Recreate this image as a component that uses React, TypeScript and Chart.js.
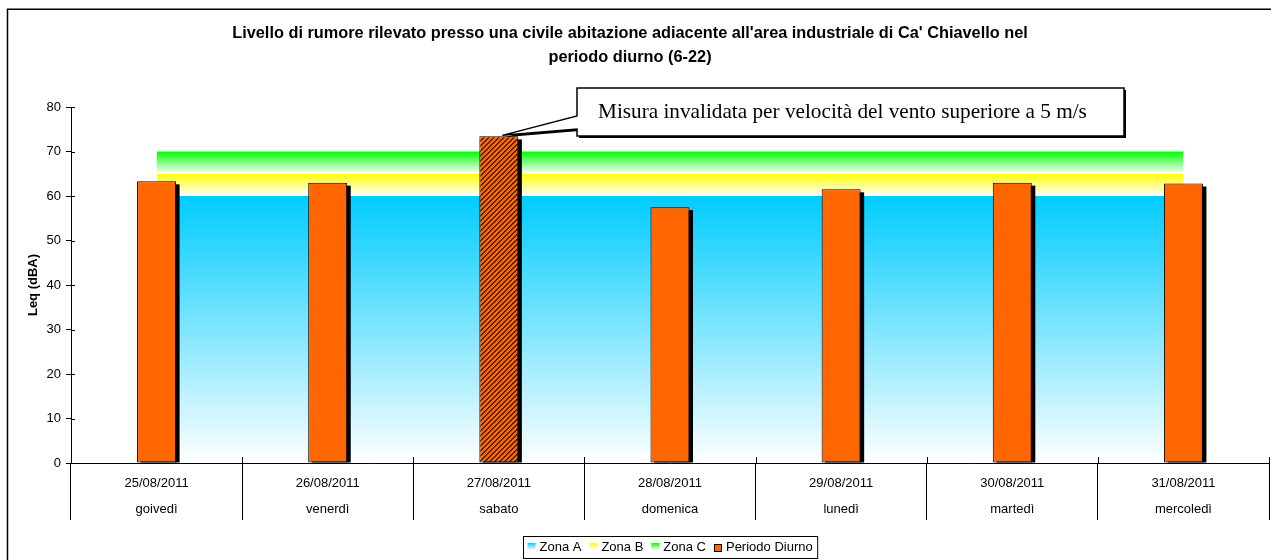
import React, { useEffect, useRef } from 'react';
import { Chart, registerables } from 'chart.js';

Chart.register(...registerables);

// ---------- data ----------
const dates = ['25/08/2011', '26/08/2011', '27/08/2011', '28/08/2011', '29/08/2011', '30/08/2011', '31/08/2011'];
const weekdays = ['goivedì', 'venerdì', 'sabato', 'domenica', 'lunedì', 'martedì', 'mercoledì'];
const periodoDiurno = [63.3, 63.0, 73.4, 57.5, 61.5, 63.0, 62.8];
const zonaA = [60, 60, 60, 60, 60, 60, 60];
const zonaB = [65, 65, 65, 65, 65, 65, 65];
const zonaC = [70, 70, 70, 70, 70, 70, 70];
const invalidIndex = 2;
const yMin = 0;
const yMax = 80;
const yStep = 10;
const titleLines = [
  "Livello di rumore rilevato presso una civile abitazione adiacente all'area industriale di Ca' Chiavello nel",
  'periodo diurno (6-22)',
];
const yTitle = 'Leq (dBA)';
const calloutText = 'Misura invalidata per velocità del vento superiore a 5 m/s';
const legendLabels = ['Zona A', 'Zona B', 'Zona C', 'Periodo Diurno'];

const SANS = '"Liberation Sans", Arial, sans-serif';
const SERIF = '"Liberation Serif", "Times New Roman", serif';
const ORANGE = '#FF6600';

function makeHatch(): CanvasPattern | string {
  const c = document.createElement('canvas');
  const n = 5;
  c.width = n;
  c.height = n;
  const g = c.getContext('2d');
  if (!g) return ORANGE;
  const img = g.createImageData(n, n);
  for (let j = 0; j < n; j++) {
    for (let i = 0; i < n; i++) {
      const k = (i + j) % n;
      let col = [255, 102, 0];
      if (k === 0) col = [45, 18, 0];
      else if (k === 1) col = [120, 48, 0];
      const p = (j * n + i) * 4;
      img.data[p] = col[0];
      img.data[p + 1] = col[1];
      img.data[p + 2] = col[2];
      img.data[p + 3] = 255;
    }
  }
  g.putImageData(img, 0, 0);
  return g.createPattern(c, 'repeat') || ORANGE;
}

function bandGradient(top: number, bottom: number, color: string) {
  return (ctx: any) => {
    const chart = ctx.chart;
    const ys = chart.scales && chart.scales.y;
    if (!chart.chartArea || !ys) return color;
    const g = chart.ctx.createLinearGradient(0, ys.getPixelForValue(top), 0, ys.getPixelForValue(bottom));
    g.addColorStop(0, color);
    g.addColorStop(1, '#FFFFFF');
    return g;
  };
}

const decorPlugin = {
  id: 'decor',
  beforeDatasetDraw(chart: any, args: any) {
    const ds = chart.data.datasets[args.index];
    if (ds.type !== 'bar') return;
    const ctx = chart.ctx;
    ctx.save();
    ctx.fillStyle = '#000';
    args.meta.data.forEach((el: any) => {
      const w = el.width;
      ctx.fillRect(el.x - w / 2 + 3.5, el.y + 3, w, el.base - el.y - 3);
    });
    ctx.restore();
  },
  afterDraw(chart: any) {
    const ctx = chart.ctx;
    const area = chart.chartArea;
    const xs = chart.scales.x;
    const ys = chart.scales.y;
    ctx.save();

    // outer border
    ctx.strokeStyle = '#000';
    ctx.lineWidth = 1.5;
    ctx.strokeRect(7.5, 9.25, 3000, 3000);

    // title
    ctx.fillStyle = '#000';
    ctx.textAlign = 'center';
    ctx.textBaseline = 'middle';
    let tf = 13;
    ctx.font = `bold ${tf}px ${SANS}`;
    const tw = ctx.measureText(titleLines[0]).width;
    tf = (tf * 796) / tw;
    ctx.font = `bold ${tf.toFixed(2)}px ${SANS}`;
    ctx.fillText(titleLines[0], 630, 33);
    ctx.fillText(titleLines[1], 630, 57);

    // x labels
    ctx.font = `13px ${SANS}`;
    ctx.textBaseline = 'alphabetic';
    for (let i = 0; i < dates.length; i++) {
      const x = xs.getPixelForValue(i);
      ctx.fillText(dates[i], x, 487);
      ctx.fillText(weekdays[i], x, 513);
    }

    // crossing tick marks
    ctx.strokeStyle = '#000';
    ctx.lineWidth = 1;
    ctx.beginPath();
    for (let v = yMin; v <= yMax; v += yStep) {
      const y = Math.round(ys.getPixelForValue(v)) + 0.5;
      ctx.moveTo(area.left, y);
      ctx.lineTo(area.left + 4, y);
    }
    for (let i = 1; i <= dates.length; i++) {
      const x = Math.round(area.left + (i * (area.right - area.left)) / dates.length) + 0.5;
      ctx.moveTo(x, area.bottom - 6);
      ctx.lineTo(x, area.bottom);
    }
    ctx.stroke();

    // callout
    const bar = chart.getDatasetMeta(3).data[invalidIndex];
    const tipX = bar.x + 3.5;
    const tipY = bar.y - 1;
    const bx0 = 577, by0 = 88, bx1 = 1124, by1 = 136;
    const pts: [number, number][] = [
      [bx0, by0], [bx1, by0], [bx1, by1], [bx0, by1], [bx0, 129], [tipX, tipY], [bx0, 116],
    ];
    const path = (dx: number, dy: number) => {
      ctx.beginPath();
      pts.forEach((p, k) => (k === 0 ? ctx.moveTo(p[0] + dx, p[1] + dy) : ctx.lineTo(p[0] + dx, p[1] + dy)));
      ctx.closePath();
    };
    ctx.fillStyle = '#000';
    path(2, 2);
    ctx.fill();
    ctx.fillStyle = '#FFF';
    path(0, 0);
    ctx.fill();
    ctx.strokeStyle = '#000';
    ctx.lineWidth = 1.5;
    path(0, 0);
    ctx.stroke();
    let cf = 20;
    ctx.font = `${cf}px ${SERIF}`;
    const cw = ctx.measureText(calloutText).width;
    cf = (cf * 489) / cw;
    ctx.font = `${cf.toFixed(2)}px ${SERIF}`;
    ctx.fillStyle = '#000';
    ctx.textAlign = 'left';
    ctx.textBaseline = 'middle';
    ctx.fillText(calloutText, 598, 112);

    // legend
    ctx.font = `13px ${SANS}`;
    const widths = legendLabels.map((l) => ctx.measureText(l).width);
    const content = widths.reduce((a, w) => a + 12 + w, 0) + 8 * (legendLabels.length - 1);
    const boxW = content + 9;
    const cx = (area.left + area.right) / 2;
    const boxL = Math.round(cx - boxW / 2) + 0.5;
    ctx.fillStyle = '#FFF';
    ctx.fillRect(boxL, 536.5, boxW, 22);
    ctx.strokeStyle = '#000';
    ctx.lineWidth = 1;
    ctx.strokeRect(boxL, 536.5, boxW, 22);
    const swatchCols = ['#00CCFF', '#FFFF00', '#00FF00'];
    let x = boxL + 4;
    legendLabels.forEach((l, k) => {
      if (k < 3) {
        const g = ctx.createLinearGradient(0, 543, 0, 550);
        g.addColorStop(0, swatchCols[k]);
        g.addColorStop(1, '#FFFFFF');
        ctx.fillStyle = g;
        ctx.fillRect(x, 543, 8, 7);
      } else {
        ctx.fillStyle = ORANGE;
        ctx.fillRect(x, 544, 8, 8);
        ctx.strokeStyle = '#000';
        ctx.strokeRect(x + 0.5, 544.5, 7, 7);
      }
      ctx.fillStyle = '#000';
      ctx.textAlign = 'left';
      ctx.textBaseline = 'middle';
      ctx.fillText(l, x + 12, 547.5);
      x += 12 + widths[k] + 8;
    });

    ctx.restore();
  },
};

export default function App() {
  const ref = useRef<HTMLCanvasElement>(null);
  useEffect(() => {
    if (!ref.current) return;
    const hatch = makeHatch();
    const chart = new Chart(ref.current, {
      type: 'bar',
      data: {
        labels: dates,
        datasets: [
          {
            type: 'line',
            label: legendLabels[0],
            data: zonaA,
            fill: 'origin',
            backgroundColor: bandGradient(60, 0, '#00CCFF'),
            borderColor: 'transparent',
            borderWidth: 0,
            pointRadius: 0,
            order: 3,
          } as any,
          {
            type: 'line',
            label: legendLabels[1],
            data: zonaB,
            fill: '-1',
            backgroundColor: bandGradient(65, 60, '#FFFF00'),
            borderColor: 'transparent',
            borderWidth: 0,
            pointRadius: 0,
            order: 2,
          } as any,
          {
            type: 'line',
            label: legendLabels[2],
            data: zonaC,
            fill: '-1',
            backgroundColor: bandGradient(70, 65, '#00FF00'),
            borderColor: 'transparent',
            borderWidth: 0,
            pointRadius: 0,
            order: 1,
          } as any,
          {
            type: 'bar',
            label: legendLabels[3],
            data: periodoDiurno,
            backgroundColor: (c: any) => (c.dataIndex === invalidIndex ? hatch : ORANGE),
            borderColor: '#000',
            borderWidth: 1,
            borderSkipped: false,
            barPercentage: 0.228,
            categoryPercentage: 1,
            order: 0,
          } as any,
        ],
      },
      options: {
        responsive: false,
        animation: false,
        events: [],
        layout: { padding: { top: 107, left: 22, right: 2, bottom: 40 } },
        plugins: {
          legend: { display: false },
          title: { display: false },
          tooltip: { enabled: false },
        },
        scales: {
          x: {
            offset: true,
            grid: { offset: true, drawOnChartArea: false, drawTicks: true, tickLength: 57, color: '#000', lineWidth: 1 },
            border: { display: true, color: '#000', width: 1 },
            ticks: { display: false },
            afterFit: (s: any) => {
              s.height = 57;
            },
          },
          y: {
            min: yMin,
            max: yMax,
            ticks: { stepSize: yStep, color: '#000', font: { size: 13, family: SANS }, padding: 5 },
            grid: { drawOnChartArea: false, drawTicks: true, tickLength: 5, color: '#000' },
            border: { display: true, color: '#000', width: 1 },
            title: {
              display: true,
              text: yTitle,
              color: '#000',
              font: { size: 13, weight: 'bold', family: SANS },
              padding: { top: 4, bottom: 4 },
            },
            afterFit: (s: any) => {
              s.width = 49;
            },
          },
        },
      },
      plugins: [decorPlugin],
    });
    return () => chart.destroy();
  }, []);
  return (
    <div style={{ position: 'fixed', left: 0, top: 0, width: 1271, height: 560, background: '#fff' }}>
      <canvas ref={ref} width={1271} height={560} style={{ display: 'block' }} />
    </div>
  );
}
